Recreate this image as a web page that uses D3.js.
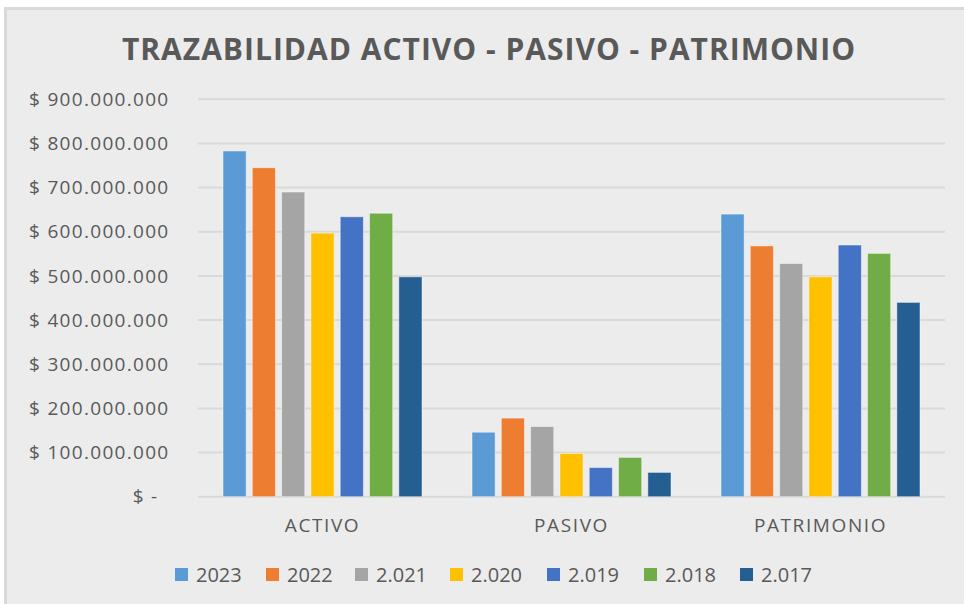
<!DOCTYPE html>
<html>
<head>
<meta charset="utf-8">
<script src="https://cdn.jsdelivr.net/npm/d3@7"></script>
<style>
  body { margin: 0; background: #fff; }
  svg { display: block; }
</style>
</head>
<body>
<svg id="chart" width="964" height="604"></svg>
<script>
// categories and series
var categories = ["ACTIVO", "PASIVO", "PATRIMONIO"];
var years = ["2023", "2022", "2.021", "2.020", "2.019", "2.018", "2.017"];
var colors = ["#5b9bd5", "#ed7d31", "#a5a5a5", "#ffc000", "#4472c4", "#70ad47", "#255e91"];

// values per year, in order ACTIVO, PASIVO, PATRIMONIO
var v2023 = [783000000, 146000000, 640000000];
var v2022 = [745000000, 178000000, 568000000];
var v2021 = [690000000, 159000000, 528000000];
var v2020 = [597000000, 98000000, 498000000];
var v2019 = [634000000, 66000000, 570000000];
var v2018 = [642000000, 89000000, 551000000];
var v2017 = [498000000, 55000000, 440000000];
var series = [v2023, v2022, v2021, v2020, v2019, v2018, v2017];

var yTicks = [0, 100000000, 200000000, 300000000, 400000000, 500000000, 600000000, 700000000, 800000000, 900000000];

var font = "'Open Sans', sans-serif";
var svg = d3.select("#chart");

// background panel
svg.append("rect").attr("x", 4).attr("y", 7).attr("width", 960).attr("height", 597).attr("fill", "#d9d9d9");
svg.append("rect").attr("x", 7).attr("y", 10).attr("width", 957).attr("height", 594).attr("fill", "#ececec");

var margin = {left: 198, right: 945, top: 99.3, bottom: 496.7};

var x0 = d3.scaleBand().domain(categories).range([margin.left, margin.right]).paddingInner(0).paddingOuter(0);
var groupPad = 25;
var x1 = d3.scaleBand().domain(years)
  .range([0, x0.bandwidth() - 2 * groupPad])
  .paddingInner(0.21).paddingOuter(0);
var y = d3.scaleLinear().domain([0, 900000000]).range([margin.bottom, margin.top]);

// title
svg.append("text")
  .attr("x", 489).attr("y", 59.5)
  .attr("text-anchor", "middle")
  .attr("font-family", font)
  .attr("font-weight", "bold")
  .attr("font-size", 30)
  .attr("letter-spacing", 1)
  .attr("fill", "#595959")
  .text("TRAZABILIDAD ACTIVO - PASIVO - PATRIMONIO");

// gridlines
svg.append("g").selectAll("line")
  .data(yTicks)
  .enter().append("line")
  .attr("x1", margin.left).attr("x2", margin.right)
  .attr("y1", function(d) { return y(d); })
  .attr("y2", function(d) { return y(d); })
  .attr("stroke", "#d9d9d9")
  .attr("stroke-width", 2);

// y axis labels
function fmt(d) {
  if (d === 0) return "$ -";
  return "$ " + d3.format(",")(d).replace(/,/g, ".");
}
var yAxis = d3.axisLeft(y).tickValues(yTicks).tickFormat(fmt).tickSize(0).tickPadding(0);
var gy = svg.append("g").attr("transform", "translate(169.5,0)").call(yAxis);
gy.select(".domain").remove();
gy.selectAll("text")
  .attr("font-family", font)
  .attr("font-size", 19)
  .attr("letter-spacing", 1.3)
  .attr("fill", "#595959");
gy.selectAll(".tick").filter(function(d) { return d === 0; }).select("text").attr("dx", -11);

// bars
var groups = svg.append("g").selectAll("g")
  .data(categories)
  .enter().append("g")
  .attr("transform", function(d) { return "translate(" + (x0(d) + groupPad) + ",0)"; });

groups.selectAll("rect")
  .data(function(c, ci) {
    return years.map(function(yr, si) { return {year: yr, value: series[si][ci], color: colors[si]}; });
  })
  .enter().append("rect")
  .attr("x", function(d) { return x1(d.year); })
  .attr("width", x1.bandwidth())
  .attr("y", function(d) { return y(d.value); })
  .attr("height", function(d) { return y(0) - y(d.value); })
  .attr("fill", function(d) { return d.color; })
  .attr("stroke", "#ffffff")
  .attr("stroke-opacity", 0.45)
  .attr("stroke-width", 1);

// category labels
var xAxis = d3.axisBottom(x0).tickSize(0).tickPadding(0);
var gx = svg.append("g").attr("transform", "translate(0,532)").call(xAxis);
gx.select(".domain").remove();
gx.selectAll("text")
  .attr("dy", 0)
  .attr("font-family", font)
  .attr("font-size", 19)
  .attr("letter-spacing", 1.6)
  .attr("fill", "#595959");

// legend
var legendX = [175, 266, 355, 450, 547, 644, 740];
var legend = svg.append("g").selectAll("g")
  .data(years)
  .enter().append("g")
  .attr("transform", function(d, i) { return "translate(" + legendX[i] + ",568)"; });

legend.append("rect")
  .attr("width", 13).attr("height", 13)
  .attr("fill", function(d, i) { return colors[i]; });

legend.append("text")
  .attr("x", 21).attr("y", 14)
  .attr("font-family", font)
  .attr("font-size", 20)
  .attr("fill", "#595959")
  .text(function(d) { return d; });
</script>
</body>
</html>
